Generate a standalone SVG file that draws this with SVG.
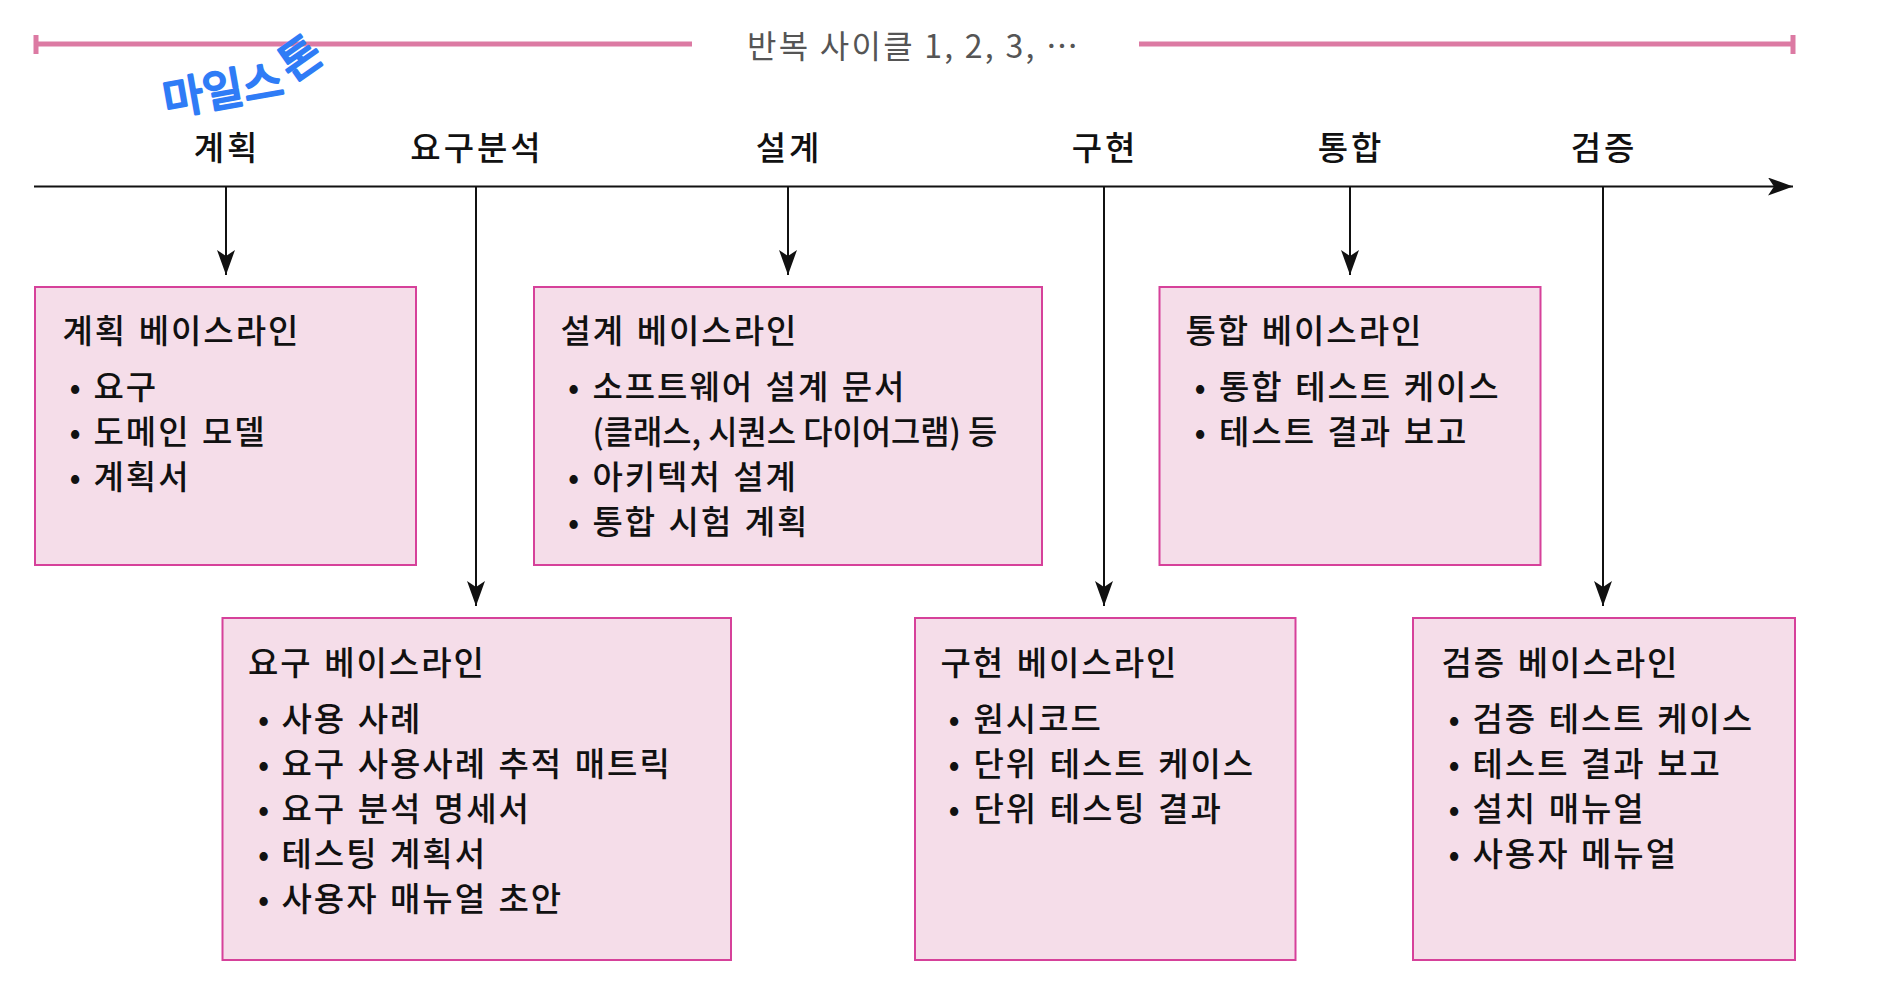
<svg xmlns="http://www.w3.org/2000/svg" width="1886" height="1000" viewBox="0 0 1886 1000">
<defs>
<style>
text { font-family: "Noto Sans CJK KR", "Noto Sans", sans-serif; fill: #111; }
.phase { font-size: 33px; text-anchor: middle; letter-spacing: 3px; font-weight: 500; }
.t { font-size: 33px; letter-spacing: 2px; word-spacing: 2px; font-weight: 500; }
.b { font-size: 33px; text-anchor: middle; }
.box { fill: #f5dde9; stroke: #d6419a; stroke-width: 2; }
.conn { stroke: #111; stroke-width: 2; fill: none; }
.cycle { stroke: #dc7aa3; stroke-width: 5; fill: none; }
</style>
<marker id="ah" viewBox="0 0 25 18" markerWidth="25" markerHeight="18" refX="25" refY="9" orient="auto" markerUnits="userSpaceOnUse">
<path d="M0,0 L25,9 L0,18 L6,9 Z" fill="#111"/>
</marker>
</defs>
<rect width="1886" height="1000" fill="#fff"/>

<g id="cycle">
<path class="cycle" d="M36,44 H692 M36,35 V54 M1139,44 H1793 M1793,35 V54"/>
<text x="747" y="58" font-size="32" style="fill:#555" textLength="331" lengthAdjust="spacing">반복 사이클 1, 2, 3, …</text>
</g>

<g id="annotation">
<text x="166" y="116" font-size="44" transform="rotate(-10 166 116)" style="fill:#2f7cf6" stroke="#2f7cf6" stroke-width="2.5" stroke-linejoin="round">마일스<tspan dx="9" dy="-11" rotate="-25">톤</tspan></text>
</g>

<g id="phases">
<text class="phase" x="227" y="160">계획</text>
<text class="phase" x="477" y="160">요구분석</text>
<text class="phase" x="789" y="160">설계</text>
<text class="phase" x="1105" y="160">구현</text>
<text class="phase" x="1351" y="160">통합</text>
<text class="phase" x="1604" y="160">검증</text>
</g>

<g id="connectors">
<path class="conn" d="M34,186.5 H1793" marker-end="url(#ah)"/>
<path class="conn" d="M226,187 V275" marker-end="url(#ah)"/>
<path class="conn" d="M476,187 V606" marker-end="url(#ah)"/>
<path class="conn" d="M788,187 V275" marker-end="url(#ah)"/>
<path class="conn" d="M1104,187 V606" marker-end="url(#ah)"/>
<path class="conn" d="M1350,187 V275" marker-end="url(#ah)"/>
<path class="conn" d="M1603,187 V606" marker-end="url(#ah)"/>
</g>

<g id="plan-baseline">
<rect class="box" x="35" y="287" width="381" height="278"/>
<text class="t" x="62.5" y="343">계획 베이스라인</text>
<text class="b" x="75" y="399">•</text><text class="t" x="93.5" y="399">요구</text>
<text class="b" x="75" y="444">•</text><text class="t" x="93.5" y="444">도메인 모델</text>
<text class="b" x="75" y="489">•</text><text class="t" x="93.5" y="489">계획서</text>
</g>

<g id="design-baseline">
<rect class="box" x="534" y="287" width="508" height="278"/>
<text class="t" x="560.5" y="343">설계 베이스라인</text>
<text class="b" x="573.5" y="399">•</text><text class="t" x="592.4" y="399">소프트웨어 설계 문서</text>
<text class="t" x="592.4" y="444" textLength="405" lengthAdjust="spacingAndGlyphs" style="letter-spacing:0;word-spacing:0">(클래스, 시퀀스 다이어그램) 등</text>
<text class="b" x="573.5" y="489">•</text><text class="t" x="592.4" y="489">아키텍처 설계</text>
<text class="b" x="573.5" y="534">•</text><text class="t" x="592.4" y="534">통합 시험 계획</text>
</g>

<g id="integration-baseline">
<rect class="box" x="1159.5" y="287" width="381" height="278"/>
<text class="t" x="1185.5" y="343">통합 베이스라인</text>
<text class="b" x="1200" y="399">•</text><text class="t" x="1219" y="399">통합 테스트 케이스</text>
<text class="b" x="1200" y="444">•</text><text class="t" x="1219" y="444">테스트 결과 보고</text>
</g>

<g id="requirements-baseline">
<rect class="box" x="222.5" y="618" width="508.5" height="342"/>
<text class="t" x="248" y="675">요구 베이스라인</text>
<text class="b" x="263.5" y="731">•</text><text class="t" x="281.5" y="731">사용 사례</text>
<text class="b" x="263.5" y="776">•</text><text class="t" x="281.5" y="776">요구 사용사례 추적 매트릭</text>
<text class="b" x="263.5" y="821">•</text><text class="t" x="281.5" y="821">요구 분석 명세서</text>
<text class="b" x="263.5" y="866">•</text><text class="t" x="281.5" y="866">테스팅 계획서</text>
<text class="b" x="263.5" y="911">•</text><text class="t" x="281.5" y="911">사용자 매뉴얼 초안</text>
</g>

<g id="implementation-baseline">
<rect class="box" x="915" y="618" width="380.5" height="342"/>
<text class="t" x="940.5" y="675">구현 베이스라인</text>
<text class="b" x="954" y="731">•</text><text class="t" x="973.5" y="731">원시코드</text>
<text class="b" x="954" y="776">•</text><text class="t" x="973.5" y="776">단위 테스트 케이스</text>
<text class="b" x="954" y="821">•</text><text class="t" x="973.5" y="821">단위 테스팅 결과</text>
</g>

<g id="verification-baseline">
<rect class="box" x="1413" y="618" width="382" height="342"/>
<text class="t" x="1441.5" y="675">검증 베이스라인</text>
<text class="b" x="1454" y="731">•</text><text class="t" x="1472.5" y="731">검증 테스트 케이스</text>
<text class="b" x="1454" y="776">•</text><text class="t" x="1472.5" y="776">테스트 결과 보고</text>
<text class="b" x="1454" y="821">•</text><text class="t" x="1472.5" y="821">설치 매뉴얼</text>
<text class="b" x="1454" y="866">•</text><text class="t" x="1472.5" y="866">사용자 메뉴얼</text>
</g>
</svg>
